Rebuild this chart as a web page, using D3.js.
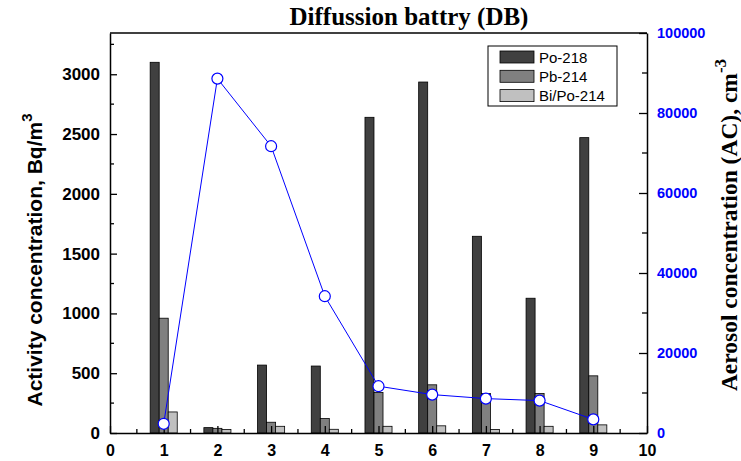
<!DOCTYPE html>
<html>
<head>
<meta charset="utf-8">
<script src="https://cdn.jsdelivr.net/npm/d3@7"></script>
<style>
  body { margin: 0; background: #fff; }
</style>
</head>
<body>
<div id="chart"></div>
<script>
// data
let samples = [1, 2, 3, 4, 5, 6, 7, 8, 9]
let seriesNames = ['Po-218', 'Pb-214', 'Bi/Po-214']
let po218 = [3100, 45, 568, 560, 2640, 2935, 1645, 1127, 2470]
let pb214 = [960, 39, 90, 121, 339, 403, 330, 330, 478]
let bipo214 = [176, 30, 56, 31, 56, 60, 30, 56, 68]
let aerosol = [2300, 88600, 71700, 34200, 11700, 9600, 8600, 8100, 3400]
let seriesColors = ['#404040', '#808080', '#c0c0c0']

let width = 741, height = 461
let margin = {top: 33, right: 94, bottom: 28, left: 110}
let plotW = width - margin.left - margin.right
let plotH = height - margin.top - margin.bottom
let sans = '"Liberation Sans", Arial, sans-serif'
let serif = '"Liberation Serif", "Times New Roman", serif'

let svg = d3.select('#chart').append('svg')
    .attr('width', width)
    .attr('height', height)

let xScale = d3.scaleLinear().domain([0, 10]).range([margin.left, margin.left + plotW])
let yScale = d3.scaleLinear().domain([0, 3345]).range([margin.top + plotH, margin.top])
let y2Scale = d3.scaleLinear().domain([0, 100000]).range([margin.top + plotH, margin.top])

let barW = 0.168
let allSeries = [po218, pb214, bipo214]

// bars
let bars = svg.append('g').attr('id', 'bars')
allSeries.forEach((vals, si) => {
    bars.append('g').selectAll('rect').data(vals).enter().append('rect')
        .attr('x', (d, i) => xScale(samples[i] + (si - 1.5) * barW))
        .attr('y', d => yScale(d))
        .attr('width', xScale(barW) - xScale(0))
        .attr('height', d => yScale(0) - yScale(d))
        .attr('fill', seriesColors[si])
        .attr('stroke', '#000')
        .attr('stroke-width', 0.8)
})

// axes
let bottomAxis = d3.axisBottom(xScale).ticks(10).tickFormat(d3.format('d')).tickSize(-7).tickSizeOuter(0).tickPadding(12)
let gx = svg.append('g').attr('transform', 'translate(0,' + (margin.top + plotH) + ')').call(bottomAxis)
gx.selectAll('.tick text').style('font-size', '16px')
// minor ticks on x
svg.append('g').selectAll('line').data(d3.range(0.5, 10, 1)).enter().append('line')
    .attr('x1', d => xScale(d)).attr('x2', d => xScale(d))
    .attr('y1', margin.top + plotH).attr('y2', margin.top + plotH - 4)
    .attr('stroke', '#000').attr('stroke-width', 1.3)

let leftAxis = d3.axisLeft(yScale).tickValues(d3.range(0, 3001, 500)).tickFormat(d3.format('d')).tickSize(-7).tickSizeOuter(0).tickPadding(10)
let gy = svg.append('g').attr('transform', 'translate(' + margin.left + ',0)').call(leftAxis)
gy.selectAll('.tick text').style('font-size', '17px')
svg.append('g').selectAll('line').data(d3.range(250, 3300, 500)).enter().append('line')
    .attr('x1', margin.left).attr('x2', margin.left + 4)
    .attr('y1', d => yScale(d)).attr('y2', d => yScale(d))
    .attr('stroke', '#000').attr('stroke-width', 1.3)

let rightAxis = d3.axisRight(y2Scale).tickValues(d3.range(0, 100001, 20000)).tickFormat(d3.format('d')).tickSize(-8).tickSizeOuter(0).tickPadding(10)
let gy2 = svg.append('g').attr('transform', 'translate(' + (margin.left + plotW) + ',0)').call(rightAxis)
gy2.selectAll('.tick text').attr('fill', '#0000ff').style('font-size', '14.5px')
svg.append('g').selectAll('line').data(d3.range(10000, 100000, 20000)).enter().append('line')
    .attr('x1', margin.left + plotW).attr('x2', margin.left + plotW - 5)
    .attr('y1', d => y2Scale(d)).attr('y2', d => y2Scale(d))
    .attr('stroke', '#000').attr('stroke-width', 1.3)

svg.selectAll('.tick line').attr('stroke-width', 1.3)
svg.selectAll('.tick text').style('font-family', sans).style('font-weight', 'bold')
svg.selectAll('.domain').attr('stroke-width', 1.5)

// top border
svg.append('line')
    .attr('x1', margin.left).attr('x2', margin.left + plotW)
    .attr('y1', margin.top).attr('y2', margin.top)
    .attr('stroke', '#000').attr('stroke-width', 1.5)

// aerosol line
let line = d3.line().x((d, i) => xScale(samples[i])).y(d => y2Scale(d))
svg.append('path').datum(aerosol)
    .attr('d', line)
    .attr('fill', 'none')
    .attr('stroke', '#0000ff')
    .attr('stroke-width', 1)
svg.append('g').selectAll('circle').data(aerosol).enter().append('circle')
    .attr('cx', (d, i) => xScale(samples[i]))
    .attr('cy', d => y2Scale(d))
    .attr('r', 5.5)
    .attr('fill', '#fff')
    .attr('stroke', '#0000ff')
    .attr('stroke-width', 1.2)

// title
svg.append('text').text('Diffussion battry (DB)')
    .attr('x', 409).attr('y', 25)
    .attr('text-anchor', 'middle')
    .style('font-family', serif)
    .style('font-weight', 'bold').style('font-size', '25px')

// left label
let ylab = svg.append('text')
    .attr('transform', 'translate(42,260) rotate(-90)')
    .attr('text-anchor', 'middle')
    .style('font-family', sans)
    .style('font-weight', 'bold').style('font-size', '21px')
ylab.append('tspan').text('Activity concentration, Bq/m')
ylab.append('tspan').text('3').attr('dy', -10).style('font-size', '15px')

// right label
let y2lab = svg.append('text')
    .attr('transform', 'translate(737,225) rotate(-90)')
    .attr('text-anchor', 'middle')
    .style('font-family', serif)
    .style('font-weight', 'bold').style('font-size', '23.5px')
y2lab.append('tspan').text('Aerosol concentration (AC), cm')
y2lab.append('tspan').text('-3').attr('dy', -11).style('font-size', '17px')

// legend
let legend = svg.append('g').attr('transform', 'translate(488,46)')
legend.append('rect')
    .attr('width', 129).attr('height', 60)
    .attr('fill', '#fff').attr('stroke', '#000').attr('stroke-width', 1)
seriesNames.forEach((name, i) => {
    let row = legend.append('g').attr('transform', 'translate(0,' + (11 + i * 19.3) + ')')
    row.append('rect')
        .attr('x', 12).attr('y', -6)
        .attr('width', 34).attr('height', 12)
        .attr('fill', seriesColors[i])
        .attr('stroke', '#000').attr('stroke-width', 0.8)
    row.append('text').text(name)
        .attr('x', 51).attr('y', 5.5)
        .style('font-family', sans)
        .style('font-size', '15px')
})
</script>
</body>
</html>
